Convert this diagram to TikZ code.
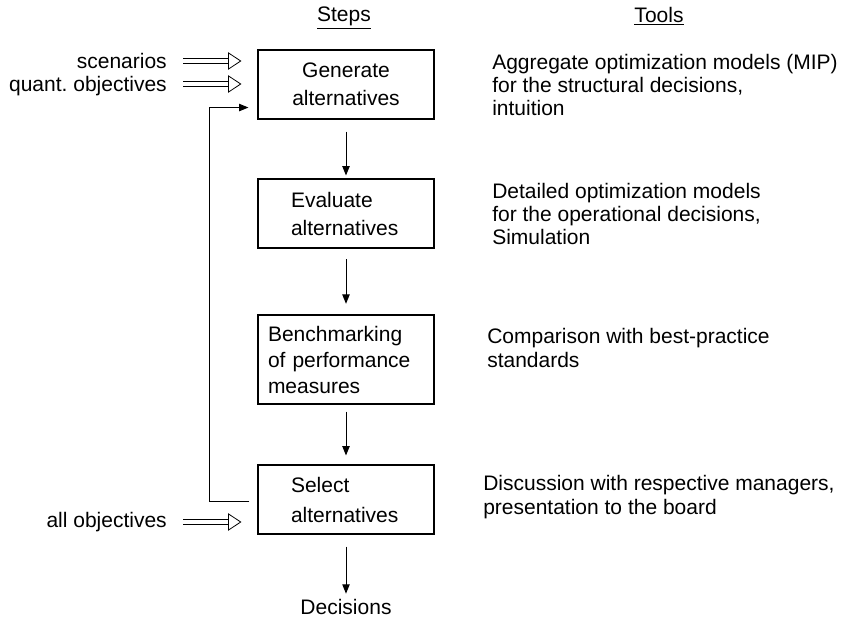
\documentclass[tikz,border=0pt]{standalone}
\usepackage{fontspec}
\setmainfont{Liberation Sans}
\usetikzlibrary{calc,arrows.meta}

\tikzset{
    stepbox/.style={draw, line width=0.8pt, minimum width=132pt, minimum height=51.75pt,
        inner xsep=24.75pt, text width=82.5pt, align=left,
        font=\fontsize{15.75pt}{21pt}\selectfont},
    flow/.style={-{Triangle[length=7pt, width=5.5pt]}, line width=0.75pt},
    hollow/.style={double, line width=0.6pt, double distance=3.3pt,
        -{Triangle[open, length=10pt, width=13pt]}},
    tool/.style={anchor=west, inner sep=0pt, align=left,
        font=\fontsize{15.75pt}{17.6pt}\selectfont},
    input/.style={anchor=east, inner sep=0pt, font=\fontsize{15.75pt}{17.6pt}\selectfont}
}

\begin{document}
\begin{tikzpicture}[x=0.75pt, y=-0.75pt]
    \useasboundingbox (0,0) rectangle (846,628);

    \node (steps) at (344,18) [font=\fontsize{15.75pt}{17.6pt}\selectfont] {\underline{Steps}};
    \node (tools) at (659,16) [font=\fontsize{15.75pt}{17.6pt}\selectfont] {\underline{Tools}};

    \node (gen) at (346,84.5) [stepbox, inner xsep=11pt, text width=110pt, align=center] {Generate\\alternatives};
    \node (eva) at ($(gen) + (0,129)$) [stepbox] {Evaluate\\alternatives};
    \node (ben) at ($(eva) + (0,146)$) [stepbox, minimum height=66.75pt, inner xsep=7.5pt,
        text width=117pt, font=\fontsize{15.75pt}{19.5pt}\selectfont] {Benchmarking\\of performance\\measures};
    \node (sel) at ($(ben) + (0,140)$) [stepbox, font=\fontsize{15.75pt}{22.5pt}\selectfont] {Select\\alternatives};
    \node (dec) at ($(sel) + (0,107.5)$) [inner sep=0pt, font=\fontsize{15.75pt}{17.6pt}\selectfont] {Decisions};

    \node (aggr) at (492,85) [tool] {Aggregate optimization models (MIP)\\for the structural decisions,\\intuition};
    \node (detail) at (492,214) [tool] {Detailed optimization models\\for the operational decisions,\\Simulation};
    \node (comp) at (487,348) [tool] {Comparison with best-practice\\standards};
    \node (disc) at (483,497) [tool] {Discussion with respective managers,\\presentation to the board};

    \node (scen) at (167,61) [input] {scenarios};
    \node (quant) at (167,86) [input] {quant.\ objectives};
    \node (allobj) at (167,522) [input] {all objectives};

    \draw[hollow, shorten <=12pt, shorten >=12pt] (scen.east) -- (scen.east -| gen.west);
    \draw[hollow, shorten <=12pt, shorten >=12pt] ($(quant.east)+(0,-2)$) -- ($(quant.east -| gen.west)+(0,-2)$);
    \draw[hollow, shorten <=12pt, shorten >=12pt] (allobj.east) -- (allobj.east -| sel.west);

    \draw[flow, shorten <=9pt, shorten >=2.25pt] (gen) -- (eva);
    \draw[flow, shorten <=8pt, shorten >=8pt] (eva) -- (ben);
    \draw[flow, shorten <=5.25pt, shorten >=6.75pt] (ben) -- (sel);
    \draw[flow, shorten <=9pt, shorten >=4pt] (sel) -- (dec);

    \draw[flow, shorten <=6pt, shorten >=6.75pt] ($(sel.west)+(0,1.5)$) -- ++(-48,0)
        |- ($(gen.south west)+(0,-12)$);
\end{tikzpicture}
\end{document}
